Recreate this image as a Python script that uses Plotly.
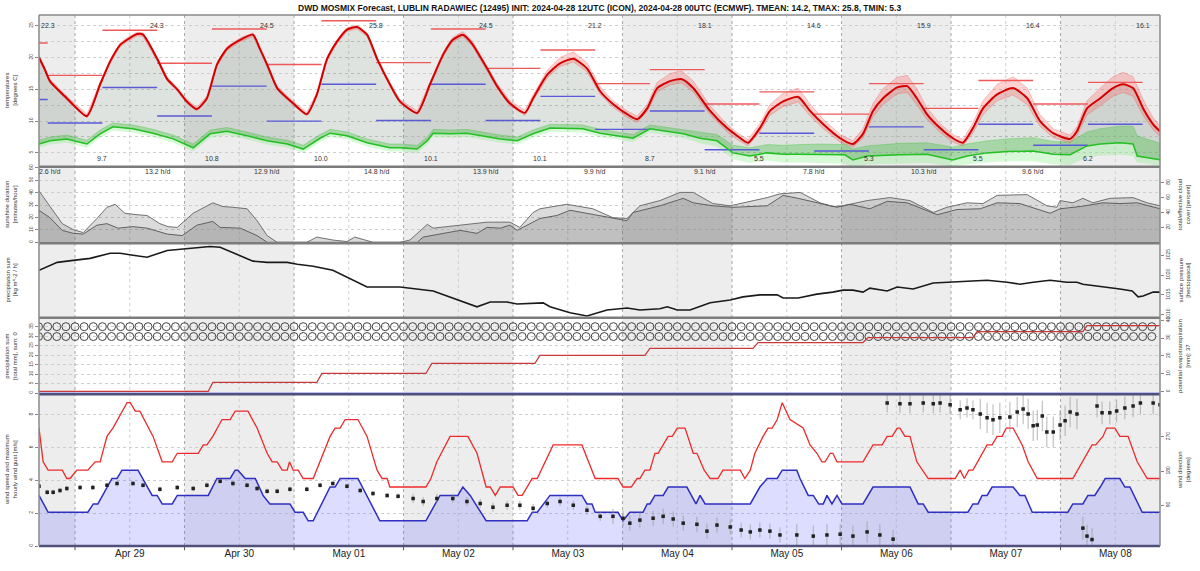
import plotly.graph_objects as go

FONT = "Liberation Sans, Arial, sans-serif"

# time axis: hours counted from 2024-04-28 00:00
x_start, x_end = 16.1, 261.8
day_labels = ["Apr 29", "Apr 30", "May 01", "May 02", "May 03",
              "May 04", "May 05", "May 06", "May 07", "May 08"]
day_noons = [36, 60, 84, 108, 132, 156, 180, 204, 228, 252]
day_starts = [24, 48, 72, 96, 120, 144, 168, 192, 216, 240]
shaded_days = [(x_start, 24), (48, 72), (96, 120), (144, 168), (192, 216), (240, x_end)]

# ---- temperature panel ----
t2m_hours = [16.1, 17.4, 18.5, 22.2, 26.6, 29.5, 31.7, 33.9, 35.4, 37.6,
             38.9, 42.0, 44.2, 46.4, 48.5, 50.7, 52.9, 55.1, 57.3, 60.2,
             63.0, 64.5, 66.1, 68.3, 71.8, 74.8, 77.0, 79.2, 81.4, 83.6,
             85.8, 88.0, 90.2, 93.0, 95.2, 99.0, 101.8, 104.7, 106.8, 109.0,
             111.0, 114.3, 116.5, 119.3, 122.6, 124.4, 127.5, 130.3, 133.2, 136.2,
             139.1, 141.9, 145.0, 147.2, 149.4, 151.6, 154.4, 157.0, 159.5, 163.2,
             166.9, 169.1, 171.5, 174.1, 176.3, 179.2, 182.5, 185.1, 188.0, 191.7,
             194.5, 196.7, 198.9, 201.1, 204.2, 206.4, 208.5, 210.7, 213.6, 216.4,
             218.6, 220.8, 223.0, 226.1, 229.6, 232.7, 235.5, 238.4, 242.1, 243.6,
             245.8, 248.7, 251.5, 253.7, 255.9, 258.1, 260.3, 261.8]
t2m = [20.0, 18.1, 16.3, 13.6, 10.8, 15.8, 19.4, 22.0, 22.8, 23.7,
       23.6, 19.8, 16.6, 15.0, 13.1, 11.9, 13.6, 18.9, 21.4, 22.8,
       23.6, 21.4, 18.9, 15.2, 12.8, 11.1, 14.2, 19.7, 22.5, 24.4,
       24.8, 23.6, 19.8, 15.8, 13.1, 11.3, 15.8, 20.5, 22.8, 23.6,
       22.2, 18.3, 15.5, 12.8, 11.3, 13.6, 17.3, 19.1, 19.8, 18.3,
       14.7, 12.7, 11.1, 10.3, 12.0, 15.2, 16.3, 16.6, 15.2, 11.6,
       8.9, 7.7, 6.6, 8.9, 11.6, 13.1, 13.8, 11.6, 9.5, 7.3,
       6.4, 8.0, 11.6, 13.6, 15.3, 15.5, 13.6, 11.1, 8.9, 7.3,
       6.6, 8.9, 12.0, 14.2, 15.2, 13.6, 10.0, 8.1, 7.2, 8.4,
       12.0, 13.6, 15.2, 15.8, 15.2, 12.0, 9.5, 8.4]
t2m_up = [0.3] * 37 + [0.4, 0.4, 0.5,
          0.5, 0.4, 0.4, 0.4, 0.4, 0.5, 0.7, 0.9, 1.1, 0.9,
          0.7, 0.5, 0.5, 0.5, 0.6, 0.9, 1.2, 1.3, 1.1, 0.8,
          0.6, 0.5, 0.5, 0.7, 1.0, 1.3, 1.4, 1.1, 0.8, 0.6,
          0.5, 0.8, 1.2, 1.5, 1.6, 1.7, 1.5, 1.0, 0.7, 0.6,
          0.5, 0.8, 1.2, 1.6, 1.8, 1.6, 1.0, 0.7, 0.6, 0.7,
          1.2, 1.6, 1.8, 1.9, 1.8, 1.4, 1.0, 0.9]
t2m_dn = [0.3] * 43 + [0.4, 0.4, 0.4, 0.5, 0.5, 0.5, 0.5,
          0.5, 0.5, 0.5, 0.5, 0.5, 0.6, 0.6, 0.6, 0.6, 0.6,
          0.6, 0.6, 0.5, 0.6, 0.7, 0.8, 0.8, 0.8, 0.7, 0.6,
          0.5, 0.7, 0.9, 1.0, 1.0, 1.0, 1.0, 0.8, 0.7, 0.6,
          0.5, 0.8, 1.0, 1.0, 1.1, 1.0, 0.8, 0.7, 0.6, 0.7,
          1.0, 1.2, 1.3, 1.3, 1.3, 1.1, 0.9, 0.8]

td_hours = [16.1, 18.5, 22.2, 26.6, 29.5, 32.3, 36.7, 41.1, 45.5, 49.9,
            53.6, 57.3, 61.7, 66.1, 70.5, 74.0, 77.7, 79.9, 83.6, 88.0,
            93.0, 95.2, 99.0, 101.2, 102.5, 106.2, 109.9, 113.4, 117.2, 120.9,
            124.4, 128.1, 131.8, 135.3, 139.1, 142.8, 146.3, 150.0, 153.8, 157.3,
            161.0, 164.7, 168.2, 171.9, 175.7, 179.2, 182.9, 187.3, 192.7, 194.5,
            197.6, 204.8, 210.7, 216.4, 219.5, 223.9, 228.3, 234.0, 238.4, 242.1,
            245.8, 248.7, 253.0, 255.9, 256.8, 261.8]
td = [6.4, 6.9, 7.2, 6.4, 8.0, 9.1, 8.8, 8.1, 7.2, 5.8,
      8.0, 8.4, 7.7, 6.9, 6.4, 5.6, 7.3, 8.1, 7.7, 6.6,
      5.8, 5.8, 5.6, 6.9, 8.1, 8.0, 8.1, 7.7, 7.2, 6.9,
      8.0, 8.9, 8.8, 8.8, 8.1, 7.7, 7.3, 8.8, 8.4, 8.0,
      7.3, 6.9, 5.0, 4.5, 5.0, 4.8, 4.8, 4.8, 4.7, 3.9,
      4.5, 4.7, 4.8, 3.9, 4.5, 5.0, 5.2, 5.3, 4.8, 4.7,
      6.1, 6.4, 6.6, 6.4, 4.5, 3.9]
td_up = [0.6] * 40 + [0.9, 1.0, 1.2, 1.3, 1.3, 1.4, 1.5, 1.6, 1.6, 1.7,
                      1.6, 1.8, 1.8, 2.0, 1.9, 1.9, 2.0, 2.1, 2.0, 2.0,
                      2.2, 2.4, 2.6, 2.8, 3.2, 2.6]
td_dn = [0.6] * 40 + [0.8, 0.9, 1.0, 1.1, 1.2, 1.3, 1.3, 1.4, 1.4, 1.2,
                      1.3, 1.4, 1.4, 1.1, 1.3, 1.5, 1.5, 1.6, 1.6, 1.6,
                      1.8, 1.8, 1.9, 1.9, 1.0, 0.9]

# 12-hourly max (red) / min (blue) bars
bar_edges = [16.1, 18, 30, 42, 54, 66, 78, 90, 102, 114, 126, 138,
             150, 162, 174, 186, 198, 210, 222, 234, 246, 258]
tmax_bars = [22.3, 17.2, 24.3, 19.1, 24.5, 18.9, 25.8, 19.2, 24.5, 18.3, 21.2,
             15.9, 18.1, 12.7, 14.6, 11.1, 15.9, 12.0, 16.4, 12.7, 16.1]
tmin_bars = [13.4, 9.7, 15.3, 10.8, 15.5, 10.0, 15.8, 10.1, 15.8, 10.1, 13.9,
             8.7, 11.6, 5.5, 8.1, 5.3, 9.1, 5.5, 9.5, 6.2, 9.5]

# ---- cloud / sunshine panel ----
sun_labels = ["2.6 h/d", "13.2 h/d", "12.9 h/d", "14.8 h/d", "13.9 h/d",
              "9.9 h/d", "9.1 h/d", "7.8 h/d", "10.3 h/d", "9.6 h/d"]
sun_label_hours = [18.5, 42, 66, 90, 114, 138, 162, 186, 210, 234]
total_hours = [16.1, 18.5, 21.2, 23.6, 25.8, 28.8, 31.0, 32.8, 34.9, 37.6,
               39.8, 42.6, 44.4, 46.4, 49.9, 54.2, 56.4, 58.6, 61.7, 63.9,
               66.1, 68.3, 74.8, 77.0, 80.5, 83.6, 85.3, 89.3, 95.2, 97.4,
               101.2, 102.5, 108.4, 114.3, 119.3, 121.5, 124.4, 125.9, 131.8, 137.5,
               141.9, 145.0, 147.8, 152.2, 156.6, 159.5, 163.8, 167.6, 175.7, 178.5,
               182.9, 187.3, 190.1, 192.3, 197.6, 202.6, 207.0, 212.1, 215.1, 219.5,
               223.0, 226.1, 232.7, 237.0, 239.2, 239.9, 242.7, 244.9, 247.1, 250.8,
               255.9, 259.0, 261.8]
total_cc = [69, 49, 25, 17, 13, 32, 47, 51, 39, 37,
            36, 25, 21, 20, 39, 53, 48, 47, 45, 29,
            9, 0, 0, 7, 3, 1, 7, 0, 0, 3,
            24, 19, 23, 27, 27, 20, 40, 45, 51, 45,
            33, 32, 49, 56, 67, 67, 52, 49, 60, 65,
            67, 53, 48, 49, 56, 60, 56, 40, 47, 53,
            52, 63, 64, 49, 47, 56, 53, 59, 53, 59,
            60, 53, 49]
eff_hours = [16.1, 18.5, 21.2, 23.6, 25.8, 28.8, 31.0, 33.4, 36.7, 39.8,
             44.2, 47.5, 50.7, 54.2, 55.8, 60.2, 63.9, 66.1, 99.0, 100.3,
             108.4, 112.1, 114.3, 117.2, 119.3, 120.9, 125.9, 129.6, 132.5, 139.1,
             145.0, 146.3, 152.2, 157.3, 159.5, 163.8, 168.2, 175.7, 179.2, 182.5,
             187.3, 191.0, 193.9, 198.2, 202.0, 206.4, 213.0, 217.3, 222.4, 226.1,
             231.1, 237.7, 239.9, 244.3, 249.3, 253.0, 256.8, 261.4, 261.8]
eff_cc = [43, 33, 16, 12, 11, 23, 25, 19, 21, 19,
          11, 9, 23, 28, 20, 19, 9, 0, 0, 7,
          16, 12, 20, 19, 23, 16, 32, 36, 43, 36,
          29, 40, 49, 59, 53, 49, 47, 49, 63, 59,
          52, 47, 51, 45, 55, 53, 37, 44, 45, 53,
          52, 39, 45, 48, 53, 52, 53, 45, 45]

# ---- pressure panel ----
p_hours = [16.1, 20.1, 23.6, 27.3, 31.7, 33.9, 36.7, 39.8, 44.2, 48.5,
           51.4, 53.6, 55.8, 58.6, 63.0, 66.1, 70.5, 72.7, 76.2, 80.5,
           84.9, 88.0, 91.5, 95.2, 102.5, 106.2, 112.1, 115.0, 118.7, 120.9,
           126.6, 128.1, 132.5, 136.2, 140.6, 145.0, 147.8, 152.2, 153.8, 156.0,
           158.8, 163.2, 167.6, 170.4, 174.1, 177.9, 179.2, 182.5, 186.6, 190.1,
           192.3, 194.5, 196.7, 198.2, 202.0, 204.2, 207.7, 212.1, 215.8, 220.8,
           223.9, 228.3, 231.1, 234.0, 237.7, 241.4, 243.6, 244.9, 248.7, 253.0,
           255.7, 257.0, 258.1, 260.3, 261.8]
pres = [1021.2, 1023.2, 1023.7, 1024.2, 1025.5, 1025.5, 1025.0, 1024.5, 1026.2, 1026.7,
        1027.0, 1027.2, 1027.0, 1025.7, 1023.5, 1023.2, 1023.2, 1022.7, 1022.2, 1021.2,
        1018.7, 1017.0, 1017.0, 1017.0, 1016.0, 1014.5, 1012.0, 1013.2, 1013.2, 1012.7,
        1013.0, 1012.0, 1010.5, 1009.7, 1011.2, 1011.7, 1011.2, 1011.5, 1012.0, 1011.2,
        1011.2, 1013.0, 1013.7, 1014.5, 1015.0, 1015.0, 1014.2, 1014.2, 1015.2, 1015.7,
        1016.2, 1016.2, 1015.7, 1016.7, 1016.0, 1017.0, 1016.5, 1018.0, 1018.2, 1018.5,
        1018.7, 1018.2, 1017.7, 1018.2, 1018.7, 1018.2, 1018.2, 1017.7, 1017.2, 1016.5,
        1016.0, 1014.5, 1014.7, 1015.7, 1015.7]

# ---- precipitation / evapotranspiration panel ----
precip_hours = [x_start, x_end]
precip_sum = [0, 0]
evap_hours = [16.1, 53.2, 54.2, 77.0, 78.1, 100.9, 102.2, 124.8, 125.9, 148.9,
              150.0, 172.6, 173.7, 196.7, 197.8, 220.8, 221.7, 244.9, 245.8, 261.8]
evap = [0.2, 0.2, 5.2, 5.2, 10.2, 10.2, 15.8, 15.8, 20.3, 20.3,
        24.2, 24.2, 27.5, 27.5, 30.3, 30.3, 33.6, 33.6, 37.0, 37.0]
sym_hours = list(range(16, 262, 2))
sym_rows = [35.0, 29.8]

# ---- wind panel (m/s) ----
gust_hours = [16.1, 17.0, 18.1, 21.2, 22.2, 22.9, 24.4, 26.8, 28.4, 29.5,
              31.0, 32.3, 35.4, 36.1, 37.2, 38.2, 41.1, 43.1, 45.3, 46.4,
              51.0, 52.1, 52.9, 54.2, 56.2, 58.0, 59.1, 61.9, 63.9, 66.1,
              67.2, 68.3, 69.4, 70.5, 71.0, 71.8, 72.9, 74.0, 76.2, 78.4,
              79.9, 81.0, 82.1, 83.2, 86.0, 88.0, 90.2, 91.3, 92.4, 93.0,
              100.9, 102.0, 103.3, 106.2, 110.1, 112.1, 114.1, 115.0, 116.1, 117.2,
              120.0, 121.1, 122.0, 124.2, 125.3, 128.8, 135.1, 138.0, 143.0, 144.1,
              145.9, 147.2, 147.8, 148.9, 150.0, 151.1, 151.8, 154.0, 154.9, 156.0,
              157.7, 159.5, 160.3, 161.9, 163.2, 164.9, 166.0, 169.8, 170.8, 172.0,
              173.0, 174.8, 175.9, 176.8, 177.9, 179.0, 180.7, 183.6, 185.1, 186.6,
              187.7, 188.4, 189.5, 190.1, 191.0, 196.7, 198.9, 200.9, 202.0, 203.1,
              204.2, 204.8, 205.9, 207.0, 208.5, 211.0, 216.9, 218.0, 218.9, 219.9,
              220.8, 223.9, 225.0, 226.1, 227.2, 228.1, 229.6, 231.6, 232.9, 234.9,
              242.7, 246.9, 247.7, 249.3, 250.1, 251.9, 253.0, 254.8, 256.8, 259.0,
              261.8]
gust = [7.20, 5.14, 4.63, 4.63, 4.12, 4.12, 4.63, 4.63, 5.14, 5.14,
        6.69, 7.20, 8.75, 8.75, 8.23, 8.23, 6.69, 5.14, 5.14, 5.66,
        5.66, 6.17, 6.17, 6.69, 7.72, 7.72, 8.23, 8.23, 7.20, 5.66,
        5.14, 5.14, 4.63, 4.63, 5.14, 4.63, 4.63, 4.12, 4.12, 5.66,
        6.69, 7.20, 7.20, 7.72, 7.72, 6.69, 4.63, 4.12, 4.12, 3.60,
        3.60, 4.12, 5.14, 6.69, 6.69, 5.66, 3.60, 3.60, 3.09, 3.60,
        3.60, 3.09, 3.09, 4.12, 4.12, 6.17, 6.17, 4.12, 4.12, 3.60,
        3.60, 4.12, 4.12, 4.63, 4.63, 5.66, 5.66, 6.69, 6.69, 7.20,
        7.20, 5.66, 5.66, 4.63, 4.12, 4.12, 4.63, 4.63, 4.12, 4.63,
        5.66, 6.69, 7.20, 7.20, 7.72, 8.75, 7.72, 7.20, 6.17, 5.66,
        5.14, 5.14, 5.66, 5.66, 5.14, 5.14, 6.17, 6.17, 6.69, 6.69,
        7.20, 7.20, 6.69, 6.69, 5.14, 4.12, 4.12, 4.63, 4.12, 4.63,
        4.63, 6.17, 6.17, 6.69, 6.69, 7.20, 7.20, 6.17, 5.14, 4.12,
        4.12, 6.17, 6.17, 6.69, 7.20, 7.20, 6.69, 6.69, 5.14, 4.12,
        4.12]
wind_hours = [16.1, 18.1, 26.8, 28.0, 29.0, 32.1, 33.2, 34.3, 37.8, 40.9,
              42.0, 43.1, 45.3, 46.4, 53.2, 55.1, 58.0, 59.1, 59.7, 61.3,
              63.5, 65.2, 66.7, 71.1, 72.2, 74.0, 75.1, 76.2, 79.9, 81.0,
              82.1, 86.0, 90.8, 100.9, 104.0, 107.9, 109.0, 110.6, 114.1, 123.1,
              124.2, 125.3, 128.1, 135.1, 136.2, 137.3, 138.0, 143.0, 144.1, 145.6,
              148.5, 149.4, 150.0, 151.1, 152.9, 154.0, 158.1, 160.1, 161.0, 162.1,
              172.0, 174.1, 175.7, 177.9, 179.0, 182.2, 182.9, 184.7, 185.8, 187.0,
              188.0, 188.8, 189.9, 191.0, 192.1, 196.7, 198.9, 207.0, 208.8, 209.9,
              211.0, 219.7, 220.8, 221.9, 222.8, 223.9, 225.0, 229.6, 231.1, 232.2,
              233.8, 241.6, 242.7, 244.9, 246.0, 247.5, 248.7, 249.8, 253.0, 254.1,
              255.2, 257.9, 261.8]
wind = [3.09, 2.06, 2.06, 2.57, 2.57, 4.12, 4.12, 4.63, 4.63, 3.09,
        3.09, 2.57, 2.57, 3.09, 3.09, 4.12, 4.12, 4.63, 4.63, 4.12,
        4.12, 3.09, 2.57, 2.57, 2.06, 2.06, 1.54, 1.54, 3.60, 3.60,
        4.12, 4.12, 1.54, 1.54, 3.09, 3.09, 3.60, 3.09, 1.54, 1.54,
        2.06, 2.06, 3.09, 3.09, 2.57, 2.57, 2.06, 2.06, 1.54, 2.06,
        2.06, 2.57, 2.57, 3.09, 3.09, 3.60, 3.60, 2.57, 3.09, 2.57,
        2.57, 3.60, 4.12, 4.12, 4.63, 4.63, 4.12, 3.09, 3.09, 2.57,
        2.57, 3.09, 2.57, 3.09, 2.57, 2.57, 3.60, 3.60, 2.57, 2.57,
        2.06, 2.06, 2.57, 2.57, 3.09, 3.09, 3.60, 3.60, 3.09, 3.09,
        2.06, 2.06, 2.57, 2.57, 3.09, 3.09, 3.60, 4.12, 4.12, 3.60,
        3.60, 2.06, 2.06]
dir_hours = [16.1, 17.9, 19.2, 20.7, 22.2, 25.1, 27.9, 31.0, 33.2, 36.7,
             38.9, 42.6, 46.4, 49.9, 52.9, 55.8, 58.6, 61.7, 63.9, 66.1,
             68.3, 71.1, 74.8, 77.7, 80.5, 83.6, 86.5, 89.3, 92.4, 94.8,
             98.1, 100.3, 103.3, 106.8, 109.9, 112.8, 115.6, 118.7, 121.5, 124.4,
             127.5, 130.3, 133.2, 136.2, 139.1,
             141.9, 144.1, 145.6, 147.8, 150.7, 152.9, 155.1, 157.3, 160.3, 162.5,
             164.7, 167.6, 170.0, 172.0, 174.1, 176.3, 178.5,
             182.2, 185.8, 188.8, 191.7, 194.5, 197.6, 200.4,
             202.0, 203.3, 204.8, 207.0, 209.9, 212.1, 213.6, 215.8, 218.0, 219.5, 220.8,
             222.4, 223.9, 225.2, 226.7, 228.9, 230.5, 231.8, 232.9, 234.0, 234.9,
             236.0, 237.0, 238.4, 239.9, 241.0, 242.1, 243.6,
             244.9, 245.8, 246.9,
             248.0, 249.1, 250.8, 252.3, 254.1, 255.9, 257.5, 260.3, 261.8]
dir_deg = [140, 124, 124, 129, 134, 137, 137, 143, 147, 147,
           143, 132, 137, 134, 143, 153, 147, 143, 134, 127,
           127, 132, 132, 143, 147, 140, 129, 121, 116, 114,
           108, 100, 108, 108, 100, 95, 85, 90, 90, 82,
           95, 100, 90, 77, 61,
           61, 56, 43, 51, 56, 61, 54, 43, 40, 22,
           38, 33, 25, 20, 25, 22, 12,
           12, 9, 12, 14, 9, 20, 12,
           359, 1, 357, 357, 359, 357, 359, 354, 341, 346, 341,
           330, 320, 315, 320, 322, 335, 343, 330, 299, 301,
           325, 283, 283, 301, 312, 335, 330,
           30, 9, 0,
           351, 333, 333, 338, 346, 351, 359, 359, 354]
dir_err = ([7] * 30 + [12] * 15 + [20] * 17 + [28] * 7 + [25] * 11
           + [40] * 17 + [30] * 3 + [30] * 9)

assert len(t2m_hours) == len(t2m) == len(t2m_up) == len(t2m_dn)
assert len(td_hours) == len(td) == len(td_up) == len(td_dn)
assert len(total_hours) == len(total_cc) and len(eff_hours) == len(eff_cc)
assert len(p_hours) == len(pres) and len(evap_hours) == len(evap)
assert len(gust_hours) == len(gust) and len(wind_hours) == len(wind)
assert len(dir_hours) == len(dir_deg) == len(dir_err)

# panel rows in pixels (top of plot = 13, bottom = 548)
def dom(top, bottom):
    return [(548 - bottom) / 535, (548 - top) / 535]

fig = go.Figure()

def sc(**kw):
    kw.setdefault("xaxis", "x")
    kw.setdefault("showlegend", False)
    kw.setdefault("hoverinfo", "skip")
    fig.add_trace(go.Scatter(**kw))

clear = dict(width=0, color="rgba(0,0,0,0)")
# temperature: grey fill between dew point and temperature
sc(x=td_hours, y=td, yaxis="y", mode="lines", line=clear)
sc(x=t2m_hours, y=t2m, yaxis="y", mode="lines", fill="tonexty",
   fillcolor="rgba(95,115,95,0.20)", line=clear)
# dew point spread
sc(x=td_hours, y=td, yaxis="y", mode="lines", line=clear)
sc(x=td_hours, y=[v + u for v, u in zip(td, td_up)], yaxis="y", mode="lines",
   fill="tonexty", fillcolor="rgba(40,190,40,0.30)", line=dict(width=0.6, color="rgba(40,190,40,0.5)"))
sc(x=td_hours, y=td, yaxis="y", mode="lines", line=clear)
sc(x=td_hours, y=[v - d for v, d in zip(td, td_dn)], yaxis="y", mode="lines",
   fill="tonexty", fillcolor="rgba(110,235,110,0.28)", line=clear)
# temperature spread
sc(x=t2m_hours, y=[v - d for v, d in zip(t2m, t2m_dn)], yaxis="y", mode="lines",
   line=dict(width=0.6, color="rgba(240,80,80,0.5)"))
sc(x=t2m_hours, y=[v + u for v, u in zip(t2m, t2m_up)], yaxis="y", mode="lines",
   fill="tonexty", fillcolor="rgba(255,70,70,0.25)", line=dict(width=0.6, color="rgba(240,80,80,0.5)"))

# 12-hourly bars
bx, rx, by = [], [], []
for i in range(len(tmax_bars)):
    bx += [bar_edges[i], bar_edges[i + 1], None]
    rx += [tmax_bars[i], tmax_bars[i], None]
    by += [tmin_bars[i], tmin_bars[i], None]
sc(x=bx, y=rx, yaxis="y", mode="lines", line=dict(color="#ee5a5a", width=1.4))
sc(x=bx, y=by, yaxis="y", mode="lines", line=dict(color="#5a5ad8", width=1.4))

sc(x=td_hours, y=td, yaxis="y", mode="lines", line=dict(color="#22c022", width=1.5))
sc(x=t2m_hours, y=t2m, yaxis="y", mode="lines",
   line=dict(color="#d40000", width=2, shape="spline", smoothing=0.6))

# cloud cover
sc(x=total_hours, y=total_cc, yaxis="y3", mode="lines", fill="tozeroy",
   fillcolor="rgba(110,110,110,0.25)", line=dict(color="#707070", width=1))
sc(x=eff_hours, y=eff_cc, yaxis="y3", mode="lines", fill="tozeroy",
   fillcolor="rgba(110,110,110,0.25)", line=dict(color="#606060", width=1))

# pressure
sc(x=p_hours, y=pres, yaxis="y5", mode="lines", line=dict(color="#1a1a1a", width=1.6))

# precipitation / evapotranspiration
sc(x=precip_hours, y=precip_sum, yaxis="y6", mode="lines", line=dict(color="#a8a8e8", width=2))
for row in sym_rows:
    sc(x=sym_hours, y=[row] * len(sym_hours), yaxis="y6", mode="markers",
       marker=dict(symbol="circle-open", size=8, color="#444", line=dict(width=1)))
sc(x=evap_hours, y=evap, yaxis="y7", mode="lines", line=dict(color="#c83a3a", width=1.2))

# wind
sc(x=wind_hours, y=wind, yaxis="y8", mode="lines", fill="tozeroy",
   fillcolor="rgba(100,100,255,0.22)", line=dict(color="#2f2fc0", width=1.5))
sc(x=gust_hours, y=gust, yaxis="y8", mode="lines", line=dict(color="#ee2a2a", width=1.3))
sc(x=dir_hours, y=dir_deg, yaxis="y9", mode="markers",
   marker=dict(symbol="square", size=3.5, color="#222"),
   error_y=dict(type="data", array=dir_err, color="rgba(150,150,150,0.7)", thickness=1, width=0))

# axes
tickf = dict(size=5, color="#444", family=FONT)
def yax(dmn, rng, **kw):
    d = dict(domain=dmn, range=rng, anchor="x", showline=False, zeroline=False,
             ticks="outside", ticklen=3, tickcolor="#888", tickfont=tickf,
             tickangle=-90, showgrid=False, fixedrange=True, autorange=False)
    d.update(kw)
    return d

grid = dict(showgrid=True, gridcolor="#cdcdcd", gridwidth=1, griddash="3px,3px")

fig.update_layout(
    width=1200, height=571,
    margin=dict(l=39, r=40, t=13, b=23),
    paper_bgcolor="white", plot_bgcolor="white",
    font=dict(family=FONT, color="#222"),
    xaxis=dict(domain=[0, 1], range=[x_start, x_end], anchor="y8",
               tickvals=day_noons, ticktext=day_labels, ticks="",
               tickfont=dict(size=10, color="#222", family=FONT),
               showgrid=False, zeroline=False, showline=False, fixedrange=True),
    yaxis=yax(dom(13, 166), [2.8, 26.7], tickvals=[5, 10, 15, 20, 25],
              minor=dict(dtick=2.5, tick0=0, showgrid=True, gridcolor="#cdcdcd", griddash="3px,3px"),
              **grid),
    yaxis2=yax(dom(166, 243), [-0.8, 60.8], dtick=10, tick0=0, **grid),
    yaxis3=yax(dom(166, 243), [-1.33, 101.3], overlaying="y2", side="right",
               tickvals=[20, 40, 60, 80]),
    yaxis4=yax(dom(243, 318), [-0.03, 2.47], dtick=0.5, tick0=0, tickformat=".1f", **grid),
    yaxis5=yax(dom(243, 318), [1009.25, 1028], overlaying="y4", side="right",
               tickvals=[1010, 1015, 1020, 1025]),
    yaxis6=yax(dom(318, 395), [-0.5, 39.7], dtick=5, tick0=0, **grid),
    yaxis7=yax(dom(318, 395), [-1.39, 41.4], overlaying="y6", side="right",
               tickvals=[0, 10, 20, 30, 40]),
    yaxis8=yax(dom(395, 548), [0, 9.27], dtick=2, tick0=0, **grid),
    yaxis9=yax(dom(395, 548), [-17, 382.2], overlaying="y8", side="right",
               tickvals=[90, 180, 270]),
)

shapes = []
for a, b in shaded_days:
    shapes.append(dict(type="rect", xref="x", yref="paper", x0=a, x1=b, y0=0, y1=1,
                       fillcolor="#ededed", line=dict(width=0), layer="below"))
for h in day_starts:
    shapes.append(dict(type="line", xref="x", yref="paper", x0=h, x1=h, y0=0, y1=1,
                       line=dict(color="#a8a8a8", width=1, dash="3px,3px"), layer="between"))
    shapes.append(dict(type="line", xref="x", yref="paper", x0=h, x1=h, y0=0, y1=-0.008,
                       line=dict(color="#555", width=1)))
for h in day_noons:
    shapes.append(dict(type="line", xref="x", yref="paper", x0=h, x1=h, y0=0, y1=1,
                       line=dict(color="#cfcfcf", width=1, dash="3px,3px"), layer="between"))
for top in [166, 243, 318]:
    y = (548 - top) / 535
    shapes.append(dict(type="line", xref="paper", yref="paper", x0=0, x1=1, y0=y, y1=y,
                       line=dict(color="#7c7c7c", width=2.5)))
for top in [395, 548]:
    y = (548 - top) / 535
    shapes.append(dict(type="line", xref="paper", yref="paper", x0=0, x1=1, y0=y, y1=y,
                       line=dict(color="#50507a", width=2.5)))
shapes.append(dict(type="line", xref="paper", yref="paper", x0=0, x1=1, y0=1, y1=1,
                   line=dict(color="#8a8a8a", width=1.5)))
for xx in [0, 1]:
    shapes.append(dict(type="line", xref="paper", yref="paper", x0=xx, x1=xx, y0=0, y1=1,
                       line=dict(color="#8a8a8a", width=1.5)))
fig.update_layout(shapes=shapes)

ann = []
ann.append(dict(text="<b>DWD MOSMIX Forecast, LUBLIN RADAWIEC (12495) INIT: 2024-04-28 12UTC (ICON), "
                     "2024-04-28 00UTC (ECMWF). TMEAN: 14.2, TMAX: 25.8, TMIN: 5.3</b>",
                xref="paper", yref="paper", x=0.5, y=1 + 7 / 535, showarrow=False,
                font=dict(size=8.5, color="#111", family=FONT), xanchor="center", yanchor="middle"))
small = dict(size=7, color="#333", family=FONT)
for i in range(0, len(tmax_bars), 2):
    ann.append(dict(text=f"{tmax_bars[i]:.1f}", x=bar_edges[i + 1], y=25.0, xref="x", yref="y",
                    showarrow=False, font=small))
for i in range(1, len(tmin_bars), 2):
    ann.append(dict(text=f"{tmin_bars[i]:.1f}", x=bar_edges[i + 1], y=4.1, xref="x", yref="y",
                    showarrow=False, font=small))
for h, t in zip(sun_label_hours, sun_labels):
    ann.append(dict(text=t, x=h, y=56.8, xref="x", yref="y2", showarrow=False, font=small))

titles_left = [("temperatures<br>[degrees C]", 13, 166),
               ("sunshine duration<br>[minutes/hour]", 166, 243),
               ("precipitation sum<br>[kg m^-2 / h]", 243, 318),
               ("precipitation sum<br>[total mm], sum: 0", 318, 395),
               ("wind speed and maximum<br>hourly wind gust [m/s]", 395, 548)]
titles_right = [("total/effective cloud<br>cover [percent]", 166, 243),
                ("surface pressure<br>[hectopascal]", 243, 318),
                ("potential evapotranspiration<br>[mm]: 37", 318, 395),
                ("wind direction<br>[degrees]", 395, 548)]
tf = dict(size=6, color="#333", family=FONT)
for t, a, b in titles_left:
    ann.append(dict(text=t, xref="paper", yref="paper", x=(11 - 39) / 1121,
                    y=(548 - (a + b) / 2) / 535, textangle=-90, showarrow=False,
                    font=tf, xanchor="center", yanchor="middle"))
for t, a, b in titles_right:
    ann.append(dict(text=t, xref="paper", yref="paper", x=(1184 - 39) / 1121,
                    y=(548 - (a + b) / 2) / 535, textangle=-90, showarrow=False,
                    font=tf, xanchor="center", yanchor="middle"))
fig.update_layout(annotations=ann)

fig.write_html("out.html", config={"displayModeBar": False},
               post_script="document.body.style.margin='0px';")
